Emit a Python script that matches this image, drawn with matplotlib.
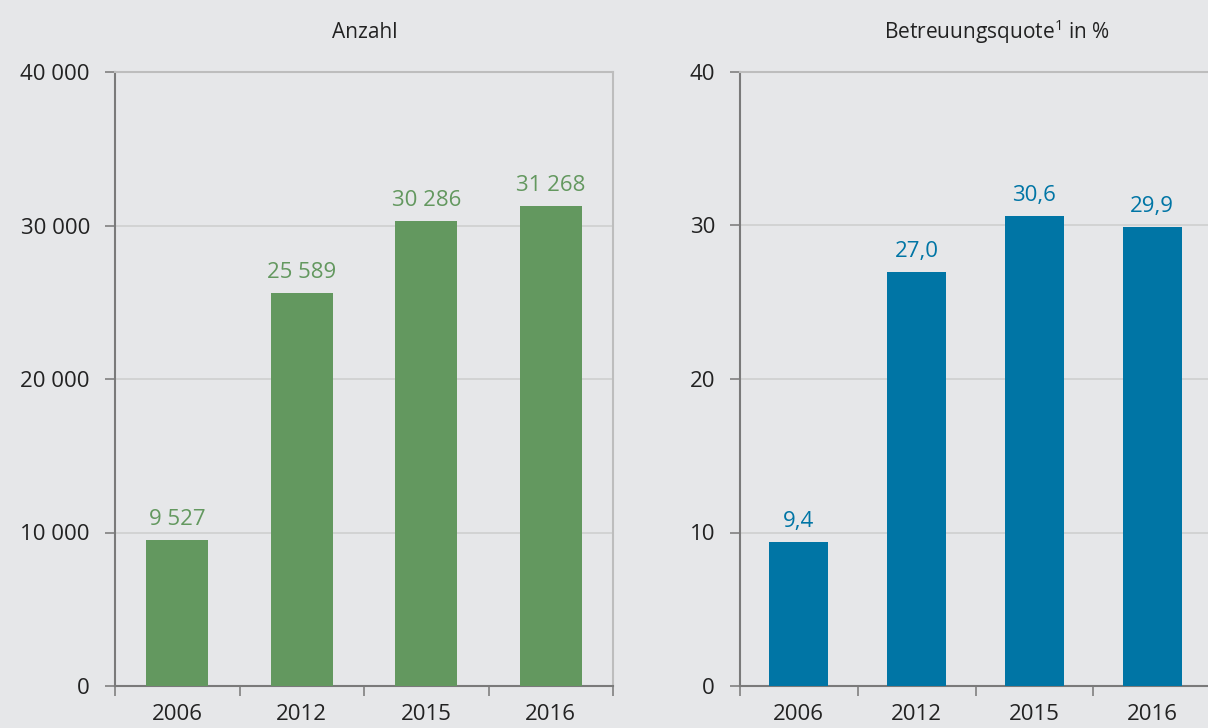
import matplotlib.pyplot as plt
import numpy as np

years = ['2006', '2012', '2015', '2016']
anzahl = [9527, 25589, 30286, 31268]
quote = [9.4, 27.0, 30.6, 29.9]

anzahl_labels = ['9 527', '25 589', '30 286', '31 268']
quote_labels = ['9,4', '27,0', '30,6', '29,9']

bg = '#e6e7e9'
green = '#63985f'
blue = '#0075a5'
dark = '#222222'

plt.rcParams['font.family'] = ['Open Sans', 'DejaVu Sans']

fig = plt.figure(figsize=(12.08, 7.28), dpi=100, facecolor=bg)
W, H = 1208, 728


def make_axes(x0, x1, y0=72, y1=686):
    ax = fig.add_axes([x0 / W, (H - y1) / H, (x1 - x0) / W, (y1 - y0) / H])
    ax.set_facecolor(bg)
    return ax


def style(ax, vals, labels, color, ymax, step, fmt):
    x = np.arange(len(vals))
    ax.bar(x, vals, width=0.5, color=color, zorder=3)
    for xi, v, lab in zip(x, vals, labels):
        ax.text(xi, v + ymax * 0.016, lab, ha='center', va='bottom',
                color=color, fontsize=16, zorder=4)
    ax.set_xlim(-0.5, len(vals) - 0.5)
    ax.set_ylim(0, ymax)
    ticks = np.arange(0, ymax + step, step)
    ax.set_yticks(ticks)
    ax.set_yticklabels([fmt(t) for t in ticks], fontsize=16, color=dark)
    ax.set_xticks(x)
    ax.set_xticklabels(years, fontsize=16, color=dark)
    ax.set_xticks(np.arange(-0.5, len(vals)), minor=True)
    ax.tick_params(axis='x', which='major', length=0, pad=13)
    ax.tick_params(axis='x', which='minor', length=7, width=1.2, color='#808080', direction='out')
    ax.tick_params(axis='y', length=7, width=1.2, color='#808080', pad=11)
    ax.grid(axis='y', color='#cfcfcf', linewidth=1.2, zorder=0)
    for s in ['left', 'bottom']:
        ax.spines[s].set_color('#7a7a7a')
        ax.spines[s].set_linewidth(1.5)
    for s in ['top', 'right']:
        ax.spines[s].set_color('#bdbdbd')
        ax.spines[s].set_linewidth(1.5)


def fmt_thousands(t):
    return f'{int(t):,}'.replace(',', ' ')


ax1 = make_axes(115, 613)
style(ax1, anzahl, anzahl_labels, green, 40000, 10000, fmt_thousands)

ax2 = make_axes(740, 1211)
style(ax2, quote, quote_labels, blue, 40, 10, lambda t: f'{int(t)}')

fig.text(365 / W, 1 - 32 / H, 'Anzahl', ha='center', va='center', fontsize=15, color=dark)
fig.text(997 / W, 1 - 32 / H, r'Betreuungsquote$^{\mathregular{1}}$ in %', ha='center', va='center',
         fontsize=15, color=dark)

fig.savefig('out.png', dpi=100, facecolor=bg)
